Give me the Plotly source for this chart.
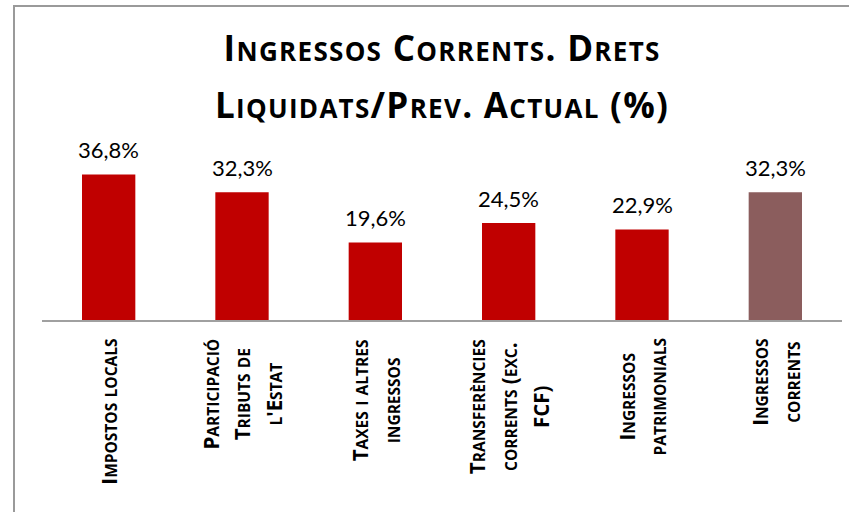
import plotly.graph_objects as go

# ---- data ----
categories = ["Impostos locals", "Participació Tributs de l'Estat", "Taxes i altres ingressos",
              "Transferències corrents (exc. FCF)", "Ingressos patrimonials", "Ingressos corrents"]
category_lines = [
    ["Impostos locals"],
    ["Participació", "Tributs de", "l'Estat"],
    ["Taxes i altres", "ingressos"],
    ["Transferències", "corrents (exc.", "FCF)"],
    ["Ingressos", "patrimonials"],
    ["Ingressos", "corrents"],
]
values = [36.8, 32.3, 19.6, 24.5, 22.9, 32.3]
bar_colors = ["#C00000", "#C00000", "#C00000", "#C00000", "#C00000", "#8B5D5D"]
title_lines = ["Ingressos Corrents. Drets", "Liquidats/Prev. Actual (%)"]

FONT = "Lato"
BOLD_FONT = "Open Sans"


def small_caps(text, big, small, extra=""):
    """Emulate small caps: lowercase letters -> uppercase at a smaller size."""
    out = []
    cur_kind, cur = None, ""
    for ch in text:
        kind = "s" if ch.islower() else "b"
        if kind != cur_kind and cur:
            out.append((cur_kind, cur))
            cur = ""
        cur_kind = kind
        cur += ch.upper() if kind == "s" else ch
    if cur:
        out.append((cur_kind, cur))
    return "".join(
        f"<span style='font-size:{small if k == 's' else big}px;{extra}'>{t}</span>" for k, t in out
    )


fig = go.Figure(go.Bar(
    x=categories, y=values, marker=dict(color=bar_colors, line=dict(width=0)),
    width=0.4, hoverinfo="skip",
))

annotations = []
# value labels
for c, v in zip(categories, values):
    annotations.append(dict(
        x=c, y=v, xref="x", yref="y", yanchor="bottom", xanchor="center",
        text=f"{v:.1f}".replace(".", ",") + "%", showarrow=False, yshift=9,
        font=dict(family=FONT, size=22, color="#000000"),
    ))
# category labels (rotated, small caps)
for c, lines in zip(categories, category_lines):
    annotations.append(dict(
        x=c, y=0, xref="x", yref="y", yanchor="top", xanchor="center",
        text="<br>".join("<b>" + small_caps(l, 20.5, 15.5) + "</b>" for l in lines),
        showarrow=False, textangle=-90, align="center", yshift=-17,
        font=dict(family=BOLD_FONT, size=24.5, color="#000000"),
    ))
# title
annotations.append(dict(
    x=0.5, y=1, xref="paper", yref="paper", xanchor="center", yanchor="bottom",
    text="<br>".join("<b>" + small_caps(l, 35, 26, "letter-spacing:1.3px") + "</b>" for l in title_lines),
    showarrow=False, align="center", yshift=12,
    font=dict(family=BOLD_FONT, size=44, color="#000000"),
))

L, R, T, B = 42, 7, 142, 192
W, H = 849, 512
pw, ph = W - L - R, H - T - B


def px_x(p):
    return (p - L) / pw


def px_y(p):
    return (H - B - p) / ph


fig.update_layout(
    width=W, height=H,
    margin=dict(l=L, r=R, t=T, b=B, pad=0),
    paper_bgcolor="#FFFFFF", plot_bgcolor="#FFFFFF",
    showlegend=False,
    bargap=0.6,
    xaxis=dict(showticklabels=False, ticks="", showgrid=False, zeroline=False,
               showline=True, linecolor="#A0A0A0", linewidth=2, fixedrange=True),
    yaxis=dict(range=[0, 45], visible=False, showgrid=False, zeroline=False, fixedrange=True),
    annotations=annotations,
    shapes=[dict(type="rect", xref="paper", yref="paper",
                 x0=px_x(14), x1=px_x(W + 20), y0=px_y(H + 20), y1=px_y(6),
                 line=dict(color="#9A9A9A", width=2), fillcolor="rgba(0,0,0,0)", layer="below")],
)

fig.write_html("out.html", config={"displayModeBar": False},
               post_script="document.body.style.margin='0';")
